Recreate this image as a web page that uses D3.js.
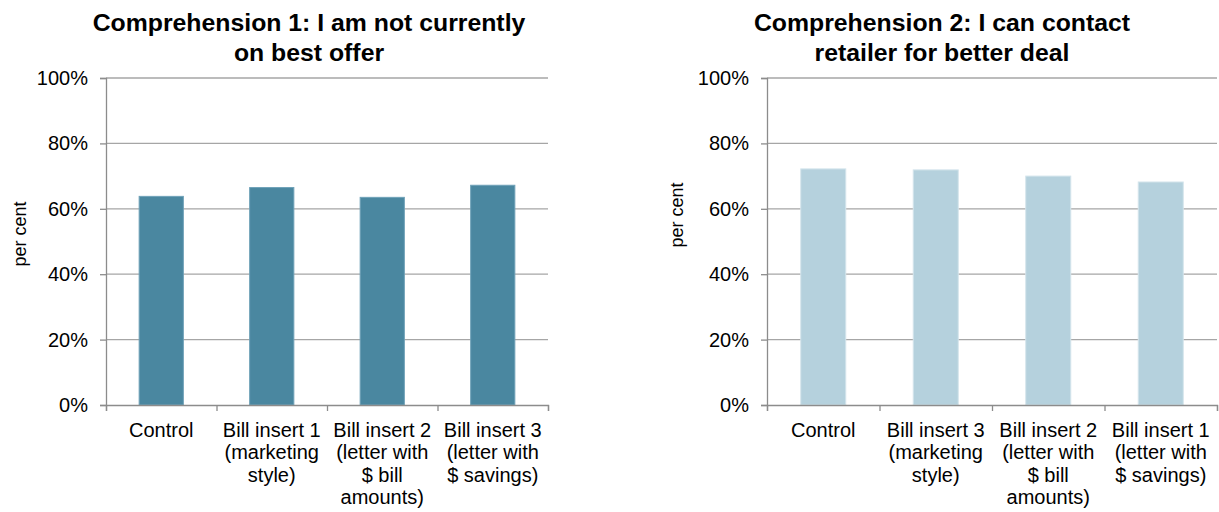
<!DOCTYPE html>
<html>
<head>
<meta charset="utf-8">
<script src="https://cdn.jsdelivr.net/npm/d3@7"></script>
<style>
  html, body { margin: 0; padding: 0; background: #fff; }
  svg { display: block; }
  text { font-family: "Liberation Sans", Arial, sans-serif; fill: #000; }
</style>
</head>
<body>
<div id="chart"></div>
<script>
// ---- Data ----
const title1 = ["Comprehension 1: I am not currently", "on best offer"];
const categories1 = [
  ["Control"],
  ["Bill insert 1", "(marketing", "style)"],
  ["Bill insert 2", "(letter with", "$ bill", "amounts)"],
  ["Bill insert 3", "(letter with", "$ savings)"]
];
const values1 = [63.8, 66.5, 63.5, 67.2];

const title2 = ["Comprehension 2: I can contact", "retailer for better deal"];
const categories2 = [
  ["Control"],
  ["Bill insert 3", "(marketing", "style)"],
  ["Bill insert 2", "(letter with", "$ bill", "amounts)"],
  ["Bill insert 1", "(letter with", "$ savings)"]
];
const values2 = [72.2, 71.9, 70.0, 68.2];

const yTicks = [0, 20, 40, 60, 80, 100];
const yAxisTitle = "per cent";

// ---- Drawing ----
const W = 1219, H = 512;
const svg = d3.select("#chart").append("svg").attr("width", W).attr("height", H);

function panel(cfg) {
  const g = svg.append("g");
  const y = d3.scaleLinear().domain([0, 100]).range([cfg.y0, cfg.y1]);
  const idx = cfg.categories.map((d, i) => i);
  const x = d3.scaleBand().domain(idx).range([cfg.x0, cfg.x1])
    .paddingInner(0.6).paddingOuter(0.3);

  // gridlines
  g.append("g").selectAll("line").data(yTicks.filter(t => t > 0)).join("line")
    .attr("x1", cfg.x0).attr("x2", cfg.x1)
    .attr("y1", d => y(d)).attr("y2", d => y(d))
    .attr("stroke", "#a6a6a6").attr("stroke-width", 1.3);

  // y axis
  const yAxis = d3.axisLeft(y).tickValues(yTicks).tickFormat(d => d + "%")
    .tickSize(6).tickPadding(12);
  const ya = g.append("g").attr("transform", `translate(${cfg.x0},0)`).call(yAxis);
  ya.select(".domain").attr("stroke", "#8c8c8c").attr("stroke-width", 1.3);
  ya.selectAll(".tick line").attr("stroke", "#8c8c8c").attr("stroke-width", 1.3);
  ya.selectAll(".tick text").attr("font-size", 20)
    .attr("font-family", "Liberation Sans, Arial, sans-serif").attr("fill", "#000");

  // bars
  g.append("g").selectAll("rect").data(cfg.values).join("rect")
    .attr("x", (d, i) => x(i))
    .attr("width", x.bandwidth())
    .attr("y", d => y(d))
    .attr("height", d => y(0) - y(d))
    .attr("fill", cfg.color)
    .attr("stroke", cfg.edge).attr("stroke-width", 1);

  // x axis
  const bx = d3.scaleLinear().domain([0, cfg.categories.length]).range([cfg.x0, cfg.x1]);
  const xAxis = d3.axisBottom(bx).tickValues(d3.range(cfg.categories.length + 1))
    .tickSize(6).tickFormat("");
  const xa = g.append("g").attr("transform", `translate(0,${y(0)})`).call(xAxis);
  xa.select(".domain").attr("stroke", "#8c8c8c").attr("stroke-width", 1.3);
  xa.selectAll(".tick line").attr("stroke", "#8c8c8c").attr("stroke-width", 1.3);

  // category labels
  cfg.categories.forEach((lines, i) => {
    const t = g.append("text")
      .attr("x", x(i) + x.bandwidth() / 2)
      .attr("y", y(0) + 32)
      .attr("text-anchor", "middle")
      .attr("font-size", 20);
    lines.forEach((ln, j) => {
      t.append("tspan").attr("x", x(i) + x.bandwidth() / 2)
        .attr("dy", j === 0 ? 0 : 22.3).text(ln);
    });
  });

  // title
  const tt = g.append("text").attr("text-anchor", "middle")
    .attr("font-size", 24.8).attr("font-weight", "bold");
  cfg.title.forEach((ln, j) => {
    tt.append("tspan").attr("x", cfg.titleX).attr("y", 31 + j * 30).text(ln);
  });

  // y axis title
  g.append("text")
    .attr("transform", `translate(${cfg.ytX},${cfg.ytY}) rotate(-90)`)
    .attr("text-anchor", "middle")
    .attr("font-size", 18)
    .text(yAxisTitle);
}

panel({
  x0: 106, x1: 548, y0: 405, y1: 78,
  categories: categories1, values: values1, title: title1,
  color: "#4a87a0", edge: "#6fa2b8", titleX: 309, ytX: 26, ytY: 234
});
panel({
  x0: 767, x1: 1217, y0: 405, y1: 78,
  categories: categories2, values: values2, title: title2,
  color: "#b5d1dd", edge: "#d3e4eb", titleX: 942, ytX: 683, ytY: 215
});
</script>
</body>
</html>
